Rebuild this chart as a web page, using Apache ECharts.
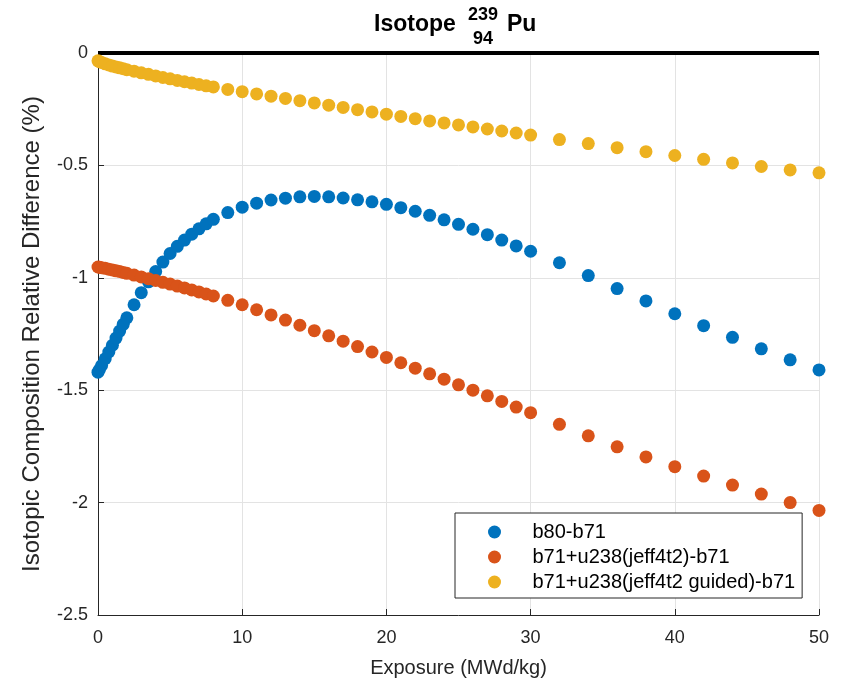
<!DOCTYPE html>
<html>
<head>
<meta charset="utf-8">
<script src="https://cdn.jsdelivr.net/npm/echarts@6/dist/echarts.min.js"></script>
<style>html,body{margin:0;padding:0;background:#fff;}#c{width:841px;height:689px;}</style>
</head>
<body>
<div id="c"></div>
<script>
const exposure = [0, 0.1, 0.25, 0.5, 0.75, 1, 1.25, 1.5, 1.75, 2, 2.5, 3, 3.5, 4, 4.5, 5, 5.5, 6, 6.5, 7, 7.5, 8,
  9, 10, 11, 12, 13, 14, 15, 16, 17, 18, 19, 20, 21, 22, 23, 24, 25, 26, 27, 28, 29, 30,
  32, 34, 36, 38, 40, 42, 44, 46, 48, 50];
const b80 = [-1.42, -1.408, -1.39, -1.36, -1.33, -1.30, -1.268, -1.237, -1.207, -1.178, -1.12, -1.066, -1.018, -0.972, -0.93, -0.892, -0.86, -0.832, -0.806, -0.782, -0.76, -0.74,
  -0.71, -0.686, -0.668, -0.654, -0.646, -0.64, -0.638, -0.64, -0.645, -0.653, -0.662, -0.673, -0.688, -0.704, -0.722, -0.742, -0.762, -0.784, -0.808, -0.832, -0.858, -0.882,
  -0.933, -0.99, -1.048, -1.103, -1.16, -1.213, -1.265, -1.316, -1.365, -1.41];
const jeff = [-0.952, -0.953, -0.955, -0.958, -0.962, -0.965, -0.969, -0.972, -0.976, -0.98, -0.988, -0.996, -1.004, -1.012, -1.02, -1.028, -1.037, -1.045, -1.054, -1.063, -1.072, -1.081,
  -1.1, -1.12, -1.142, -1.165, -1.188, -1.211, -1.235, -1.258, -1.282, -1.306, -1.33, -1.354, -1.378, -1.402, -1.427, -1.451, -1.476, -1.5, -1.525, -1.55, -1.575, -1.6,
  -1.652, -1.703, -1.752, -1.797, -1.84, -1.882, -1.922, -1.962, -2.0, -2.035];
const guided = [-0.035, -0.038, -0.042, -0.048, -0.053, -0.058, -0.062, -0.066, -0.07, -0.074, -0.081, -0.088, -0.095, -0.102, -0.109, -0.115, -0.122, -0.128, -0.134, -0.14, -0.146, -0.151,
  -0.162, -0.172, -0.182, -0.192, -0.202, -0.212, -0.222, -0.232, -0.242, -0.252, -0.262, -0.272, -0.282, -0.292, -0.302, -0.311, -0.32, -0.329, -0.338, -0.347, -0.356, -0.365,
  -0.385, -0.403, -0.421, -0.439, -0.456, -0.473, -0.489, -0.505, -0.52, -0.533];
const seriesNames = ['b80-b71', 'b71+u238(jeff4t2)-b71', 'b71+u238(jeff4t2 guided)-b71'];
const seriesColors = ['#0072BD', '#D95319', '#EDB120'];
const titleMain = 'Isotope', titleMass = '239', titleZ = '94', titleEl = 'Pu';
const xName = 'Exposure (MWd/kg)';
const yName = 'Isotopic Composition Relative Difference (%)';

const FONT = '"Liberation Sans", Arial, Helvetica, sans-serif';
const TXT = '#262626';
const pairs = ys => exposure.map((x, i) => [x, ys[i]]);
const allY = [b80, jeff, guided];

const chart = echarts.init(document.getElementById('c'), null, {renderer: 'canvas'});
const series = allY.map((ys, k) => ({
  type: 'scatter', name: seriesNames[k], data: pairs(ys),
  symbol: 'circle', symbolSize: 13,
  itemStyle: {color: seriesColors[k], opacity: 1},
  z: 3 + k
}));
series.unshift({
  type: 'line', data: [], silent: true, z: 2,
  markLine: {silent: true, symbol: 'none', label: {show: false},
    lineStyle: {color: '#000', width: 4, type: 'solid'},
    data: [{yAxis: 0}], animation: false}
});
chart.setOption({
  animation: false,
  backgroundColor: '#fff',
  textStyle: {fontFamily: FONT},
  grid: {left: 98, right: 22, top: 53, bottom: 74, containLabel: false},
  graphic: [
    {type: 'text', style: {text: titleMain, x: 374, y: 25, textAlign: 'left', textVerticalAlign: 'middle', font: 'bold 23px ' + FONT, fill: '#000'}},
    {type: 'text', style: {text: titleMass, x: 483, y: 15, textAlign: 'center', textVerticalAlign: 'middle', font: 'bold 18px ' + FONT, fill: '#000'}},
    {type: 'text', style: {text: titleZ, x: 483, y: 39, textAlign: 'center', textVerticalAlign: 'middle', font: 'bold 18px ' + FONT, fill: '#000'}},
    {type: 'text', style: {text: titleEl, x: 507, y: 25, textAlign: 'left', textVerticalAlign: 'middle', font: 'bold 23px ' + FONT, fill: '#000'}}
  ],
  legend: {
    show: true, orient: 'vertical', left: 455, top: 513,
    data: seriesNames.map(n => ({name: n, icon: 'circle'})),
    itemWidth: 66, itemHeight: 13, itemGap: 5,
    padding: [9, 7, 6, 33],
    borderColor: '#262626', borderWidth: 1, backgroundColor: '#fff',
    textStyle: {fontSize: 20, color: '#000', fontFamily: FONT, lineHeight: 20},
    selectedMode: false
  },
  xAxis: {
    type: 'value', min: 0, max: 50, interval: 10,
    name: xName, nameLocation: 'middle', nameGap: 43,
    nameTextStyle: {fontSize: 20, color: TXT, fontFamily: FONT},
    axisLine: {show: true, onZero: false, lineStyle: {color: TXT, width: 1}},
    axisTick: {show: true, inside: true, length: 6, lineStyle: {color: TXT}},
    axisLabel: {fontSize: 18, color: TXT, margin: 14, fontFamily: FONT},
    splitLine: {show: true, lineStyle: {color: '#e3e3e3', width: 1}}
  },
  yAxis: {
    type: 'value', min: -2.5, max: 0, interval: 0.5,
    name: yName, nameLocation: 'middle', nameGap: 54, nameRotate: 90,
    nameTextStyle: {fontSize: 24, color: TXT, fontFamily: FONT},
    axisLine: {show: true, onZero: false, lineStyle: {color: TXT, width: 1}},
    axisTick: {show: true, inside: true, length: 6, lineStyle: {color: TXT}},
    axisLabel: {fontSize: 18, color: TXT, margin: 10, fontFamily: FONT,
      formatter: v => (Math.abs(v) < 1e-9 ? '0' : String(v))},
    splitLine: {show: true, lineStyle: {color: '#e3e3e3', width: 1}}
  },
  series: series
});
</script>
</body>
</html>
